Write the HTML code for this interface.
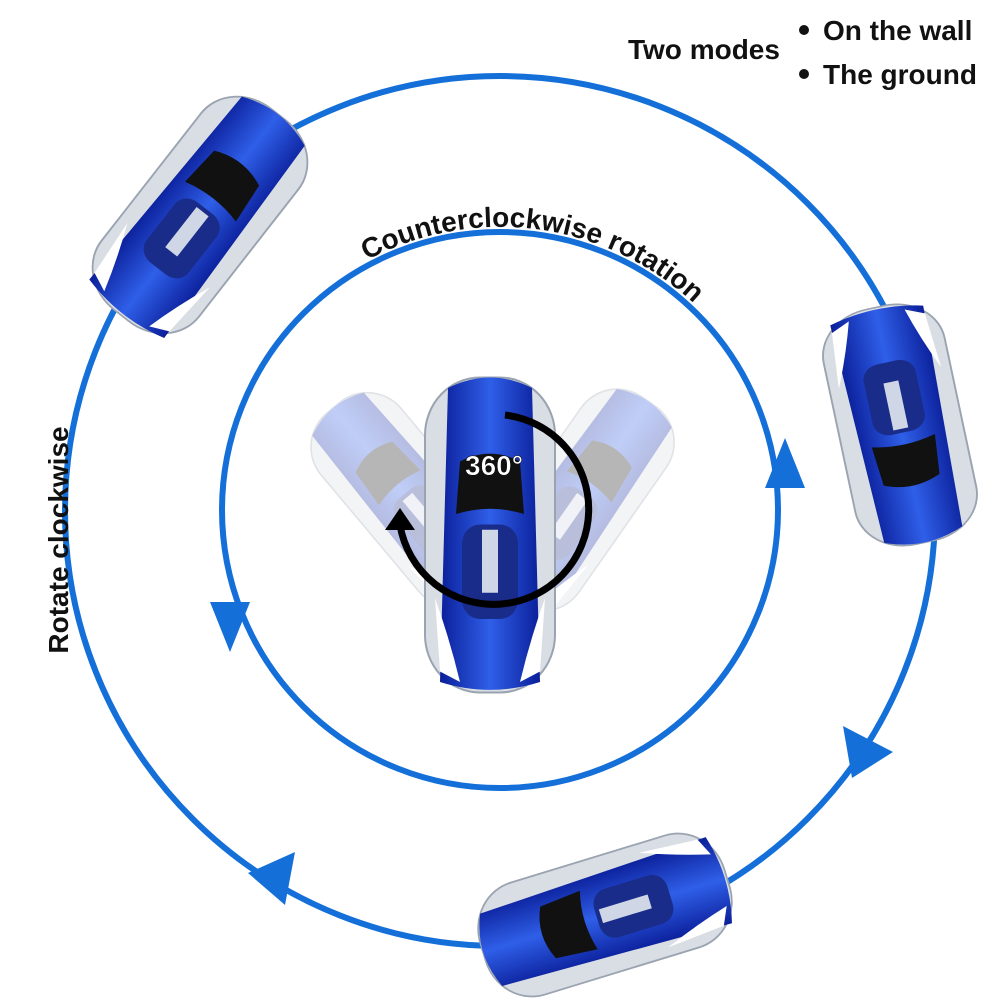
<!DOCTYPE html>
<html><head><meta charset="utf-8"><style>
html,body{margin:0;padding:0;background:#fff;}
svg{display:block}
text{font-family:"Liberation Sans",sans-serif;font-weight:bold;}
</style></head><body>
<svg width="1000" height="1000" viewBox="0 0 1000 1000">
<defs>
<linearGradient id="bl" x1="0" x2="1" y1="0" y2="0">
<stop offset="0" stop-color="#0b1f9a"/><stop offset="0.5" stop-color="#2f5fe8"/><stop offset="1" stop-color="#0b1f9a"/></linearGradient>
<g id="car">
<rect x="-65" y="-150" width="130" height="300" rx="55" fill="#d9dde4" stroke="#9aa3b0" stroke-width="2"/>
<path d="M-42,-140 Q0,-160 42,-140 L50,140 Q0,155 -50,140 Z" fill="url(#bl)"/>
<path d="M-30,-70 Q0,-85 30,-70 L34,-20 Q0,-30 -34,-20 Z" fill="#111"/>
<rect x="-28" y="-10" width="56" height="90" rx="18" fill="#1a2c8a"/>
<path d="M-55,60 Q-40,100 -30,140 L-50,130 Z" fill="#fff"/>
<path d="M55,60 Q40,100 30,140 L50,130 Z" fill="#fff"/>
<rect x="-8" y="-5" width="16" height="60" fill="#cfd6e6"/>
</g>
</defs>
<g opacity="0.3"><use href="#car" transform="translate(410,500) rotate(-40) scale(0.8)"/>
<use href="#car" transform="translate(580,500) rotate(35) scale(0.8)"/></g>
<circle cx="500" cy="511" r="435" fill="none" stroke="#1470d8" stroke-width="6"/>
<circle cx="500" cy="510" r="278" fill="none" stroke="#1470d8" stroke-width="6"/>
<polygon points="785,438 765,488 805,488" fill="#1470d8"/>
<polygon points="230,652 210,602 250,602" fill="#1470d8"/>
<polygon points="852,778 843,726 893,752" fill="#1470d8"/>
<polygon points="248,873 295,852 285,905" fill="#1470d8"/>
<use href="#car" transform="translate(490,535) scale(1,1.05)"/>
<use href="#car" transform="translate(200,215) rotate(38) scale(0.95,0.85)"/>
<use href="#car" transform="translate(900,425) rotate(168) scale(0.95,0.8)"/>
<use href="#car" transform="translate(605,915) rotate(-107) scale(0.9,0.85)"/>
<path d="M505,415 A95,95 0 1 1 400,525" fill="none" stroke="#000" stroke-width="7"/>
<polygon points="385,530 415,530 400,508" fill="#000"/>
<text x="465" y="475" font-size="28" fill="#fff" stroke="#000" stroke-width="0.5">360°</text>
<path id="arc" d="M338,278 A283,283 0 0 1 717,328" fill="none"/>
<text font-size="28" fill="#111"><textPath href="#arc" startOffset="50%" text-anchor="middle">Counterclockwise rotation</textPath></text>
<text transform="translate(68,540) rotate(-90)" font-size="28" fill="#111" text-anchor="middle">Rotate clockwise</text>
<text x="628" y="59" font-size="28" fill="#111">Two modes</text>
<circle cx="804" cy="30" r="5" fill="#111"/>
<circle cx="804" cy="74" r="5" fill="#111"/>
<text x="823" y="40" font-size="28" fill="#111">On the wall</text>
<text x="823" y="84" font-size="28" fill="#111">The ground</text>
</svg>
</body></html>
